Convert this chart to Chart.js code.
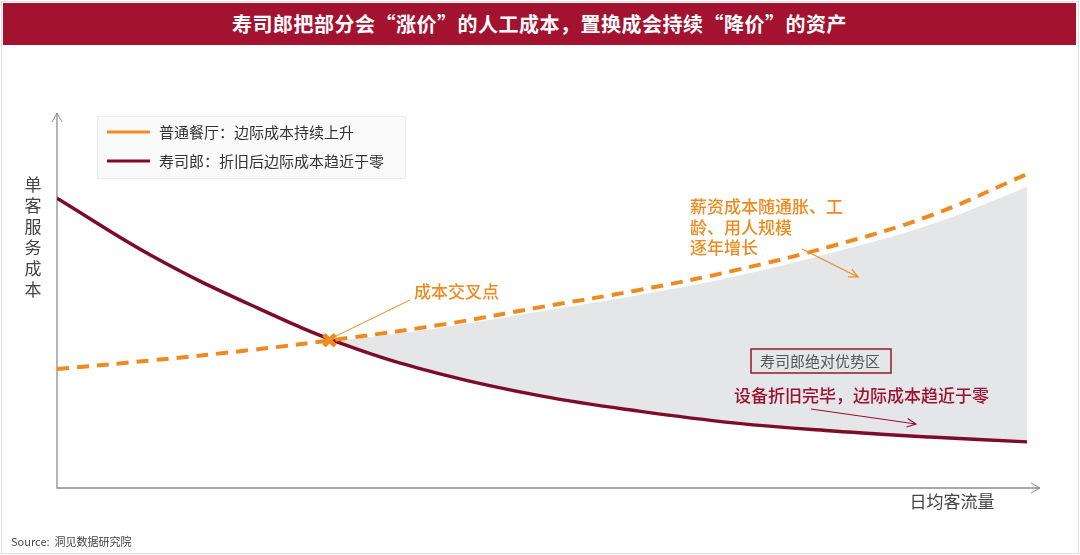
<!DOCTYPE html>
<html>
<head>
<meta charset="utf-8">
<script src="https://cdn.jsdelivr.net/npm/chart.js@4.4.1/dist/chart.umd.min.js"></script>
<style>
  html, body { margin: 0; padding: 0; background: #fff; }
  #wrap { position: relative; width: 1080px; height: 555px; overflow: hidden; font-family: "Noto Sans CJK SC", sans-serif; }
  #frame { position: absolute; left: 1px; top: 1px; width: 1076px; height: 551px; border: 1px solid #dcdcdc; }
  #title { position: absolute; left: 3px; top: 3px; width: 1073px; height: 42px; background: #a3122f; color: #fff;
           font-size: 20px; font-weight: bold; text-align: center; line-height: 42px; letter-spacing: 0.5px; }
  #chart { position: absolute; left: 0; top: 0; }
</style>
</head>
<body>
<div id="wrap">
  <div id="frame"></div>
  <canvas id="chart" width="1080" height="555"></canvas>
  <div id="title">寿司郎把部分会“涨价”的人工成本，置换成会持续“降价”的资产</div>
</div>
<script>
// x = 日均客流量 (relative), y = 单客服务成本 (relative)
const xs = [0, 1, 2, 3, 4, 5, 6, 7, 8, 9, 10];
const restaurantCost = [31.7, 34.1, 36.8, 40.0, 43.7, 48.3, 52.8, 58.1, 64.6, 72.6, 83.7];
const sushiroCost = [77.3, 61.6, 48.8, 37.9, 30.1, 24.5, 20.5, 17.3, 15.2, 13.6, 12.3];
// upper edge of the shaded advantage zone
const zoneX = [2.81, 3, 4, 5, 6, 7, 8, 9, 10];
const zoneTop = [39.4, 39.6, 42.9, 47.2, 51.5, 56.5, 62.8, 70.2, 80.3];
const crossX = [2.81];
const crossY = [39.4];

const legendLabels = ["普通餐厅：边际成本持续上升", "寿司郎：折旧后边际成本趋近于零"];

const ORANGE = "#ef8a1f";
const MAROON = "#7d0b2b";
const FONT = '"Noto Sans CJK SC", sans-serif';

const pts = (x, y) => x.map((v, i) => ({ x: v, y: y[i] }));

function arrow(ctx, x1, y1, x2, y2, color) {
  const ang = Math.atan2(y2 - y1, x2 - x1);
  ctx.save();
  ctx.strokeStyle = color;
  ctx.lineWidth = 1.2;
  ctx.beginPath();
  ctx.moveTo(x1, y1);
  ctx.lineTo(x2, y2);
  ctx.moveTo(x2 - 10 * Math.cos(ang - 0.45), y2 - 10 * Math.sin(ang - 0.45));
  ctx.lineTo(x2, y2);
  ctx.lineTo(x2 - 10 * Math.cos(ang + 0.45), y2 - 10 * Math.sin(ang + 0.45));
  ctx.stroke();
  ctx.restore();
}

const axesPlugin = {
  id: "axesPlugin",
  beforeDatasetsDraw(chart) {
    const { ctx, chartArea: a } = chart;
    ctx.save();
    ctx.strokeStyle = "#8c8c8c";
    ctx.lineWidth = 1.3;
    ctx.beginPath();
    ctx.moveTo(a.left, a.top);
    ctx.lineTo(a.left, a.bottom);
    ctx.lineTo(a.right, a.bottom);
    ctx.stroke();
    ctx.lineWidth = 1;
    ctx.beginPath();
    ctx.moveTo(a.left - 5, a.top + 9); ctx.lineTo(a.left, a.top); ctx.lineTo(a.left + 5, a.top + 9);
    ctx.moveTo(a.right - 9, a.bottom - 5); ctx.lineTo(a.right, a.bottom); ctx.lineTo(a.right - 9, a.bottom + 5);
    ctx.stroke();

    // axis titles
    ctx.fillStyle = "#444";
    ctx.font = "17px " + FONT;
    ctx.textAlign = "center";
    ctx.textBaseline = "middle";
    "单客服务成本".split("").forEach((c, i) => ctx.fillText(c, 33, 185 + i * 21));
    ctx.fillText("日均客流量", 952, 502);
    ctx.textAlign = "left";
    ctx.font = "11px " + FONT;
    ctx.fillText("Source:  洞见数据研究院", 11, 542);
    ctx.restore();
  }
};

const notesPlugin = {
  id: "notesPlugin",
  afterDatasetsDraw(chart) {
    const { ctx } = chart;
    const sx = chart.scales.x, sy = chart.scales.y;
    ctx.save();

    // legend box
    ctx.fillStyle = "#fafafa";
    ctx.strokeStyle = "#ececec";
    ctx.lineWidth = 1;
    ctx.fillRect(97, 116, 308, 62);
    ctx.strokeRect(97.5, 116.5, 308, 62);
    ctx.lineWidth = 3;
    [[ORANGE, 132], [MAROON, 161]].forEach(([c, y], i) => {
      ctx.strokeStyle = c;
      ctx.beginPath(); ctx.moveTo(107, y); ctx.lineTo(150, y); ctx.stroke();
      ctx.fillStyle = "#333";
      ctx.font = "15px " + FONT;
      ctx.textBaseline = "middle";
      ctx.fillText(legendLabels[i], 159, y);
    });

    // cross point note
    const cx = sx.getPixelForValue(crossX[0]), cy = sy.getPixelForValue(crossY[0]);
    ctx.strokeStyle = ORANGE;
    ctx.lineWidth = 1;
    ctx.beginPath(); ctx.moveTo(cx + 4, cy - 3); ctx.lineTo(410, 300); ctx.stroke();
    ctx.fillStyle = ORANGE;
    ctx.font = "500 17px " + FONT;
    ctx.fillText("成本交叉点", 414, 292);

    // wage note
    ["薪资成本随通胀、工", "龄、用人规模", "逐年增长"].forEach((t, i) => ctx.fillText(t, 690, 207 + i * 20.5));
    arrow(ctx, 802, 249, 858, 277, ORANGE);

    // advantage zone label
    ctx.strokeStyle = "#8e1a35";
    ctx.lineWidth = 1.5;
    ctx.strokeRect(751, 349, 140, 24);
    ctx.fillStyle = "#555";
    ctx.font = "15px " + FONT;
    ctx.fillText("寿司郎绝对优势区", 760, 361);

    // depreciation note
    ctx.fillStyle = "#9a1233";
    ctx.font = "500 17px " + FONT;
    ctx.fillText("设备折旧完毕，边际成本趋近于零", 734, 396);
    arrow(ctx, 811, 409, 916, 424, "#9a1233");
    ctx.restore();
  }
};

new Chart(document.getElementById("chart"), {
  type: "line",
  data: {
    datasets: [
      {
        label: legendLabels[0],
        data: pts(xs, restaurantCost),
        borderColor: ORANGE,
        borderWidth: 4,
        borderDash: [12, 8],
        pointRadius: 0,
        tension: 0.4,
        fill: false,
        order: 1
      },
      {
        label: legendLabels[1],
        data: pts(xs, sushiroCost),
        borderColor: MAROON,
        borderWidth: 3.5,
        pointRadius: 0,
        tension: 0.4,
        fill: false,
        order: 1
      },
      {
        label: "寿司郎绝对优势区",
        data: pts(zoneX, zoneTop),
        borderWidth: 0,
        borderColor: "rgba(0,0,0,0)",
        backgroundColor: "#e5e6e7",
        pointRadius: 0,
        tension: 0.4,
        fill: { target: 1 },
        order: 3
      },
      {
        label: "成本交叉点",
        type: "scatter",
        data: pts(crossX, crossY),
        pointStyle: "crossRot",
        pointRadius: 8,
        borderWidth: 4.5,
        borderColor: ORANGE,
        order: 0
      }
    ]
  },
  options: {
    responsive: false,
    animation: false,
    events: [],
    layout: { padding: { left: 57, right: 40, top: 113, bottom: 67 } },
    plugins: { legend: { display: false }, tooltip: { enabled: false } },
    scales: {
      x: { type: "linear", min: 0, max: 10.134, display: false },
      y: { min: 0, max: 100, display: false }
    }
  },
  plugins: [axesPlugin, notesPlugin]
});
</script>
</body>
</html>
